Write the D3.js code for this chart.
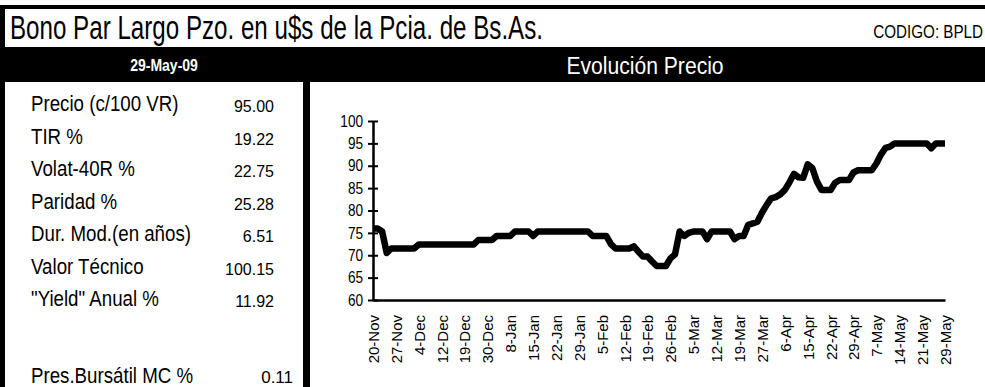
<!DOCTYPE html>
<html>
<head>
<meta charset="utf-8">
<script src="https://cdn.jsdelivr.net/npm/d3@7"></script>
<style>
  html, body { margin: 0; padding: 0; background: #fff; }
  svg { display: block; }
  text { font-family: "Liberation Sans", Arial, sans-serif; }
</style>
</head>
<body>
<svg id="chart" width="985" height="387"></svg>
<script>
// Bond summary: header texts, indicator table and daily closing prices
const titleText = "Bono Par Largo Pzo. en u$s de la Pcia. de Bs.As.";
const codeText = "CODIGO: BPLD";
const dateText = "29-May-09";
const chartTitle = "Evolución Precio";

const indicatorNames = ["Precio (c/100 VR)", "TIR %", "Volat-40R %", "Paridad %",
  "Dur. Mod.(en años)", "Valor Técnico", "\"Yield\" Anual %"];
const indicatorValues = ["95.00", "19.22", "22.75", "25.28", "6.51", "100.15", "11.92"];
const feeName = "Pres.Bursátil MC %";
const feeValue = "0.11";

// one label every fifth trading day
const dateLabels = ["20-Nov", "27-Nov", "4-Dec", "12-Dec", "19-Dec", "30-Dec", "8-Jan",
  "15-Jan", "22-Jan", "29-Jan", "5-Feb", "12-Feb", "19-Feb", "26-Feb", "5-Mar", "12-Mar",
  "19-Mar", "27-Mar", "6-Apr", "15-Apr", "22-Apr", "29-Apr", "7-May", "14-May", "21-May", "29-May"];
const labelStep = 5;

const prices = [
  76.0, 76.0, 75.3, 70.5, 71.5, 71.5, 71.5, 71.5, 71.5, 71.5,
  72.4, 72.4, 72.4, 72.4, 72.4, 72.4, 72.4, 72.4, 72.4, 72.4,
  72.4, 72.4, 72.4, 73.4, 73.4, 73.4, 73.4, 74.3, 74.3, 74.3,
  74.3, 75.3, 75.3, 75.3, 75.3, 74.3, 75.3, 75.3, 75.3, 75.3,
  75.3, 75.3, 75.3, 75.3, 75.3, 75.3, 75.3, 75.3, 74.3, 74.3,
  74.3, 74.3, 72.5, 71.5, 71.5, 71.5, 71.5, 72.0, 70.8, 69.7,
  69.7, 68.6, 67.6, 67.6, 67.6, 69.3, 70.2, 75.3, 74.3, 75.0,
  75.3, 75.3, 75.3, 73.6, 75.3, 75.3, 75.3, 75.3, 75.3, 73.6,
  74.3, 74.3, 76.8, 77.1, 77.5, 79.5, 81.2, 82.7, 83.0, 83.6,
  84.6, 86.3, 88.2, 87.4, 87.3, 90.3, 89.5, 86.5, 84.6, 84.6,
  84.6, 86.2, 86.8, 86.8, 86.8, 88.5, 89.0, 89.0, 89.0, 89.0,
  90.5, 92.5, 94.0, 94.3, 95.0, 95.0, 95.0, 95.0, 95.0, 95.0,
  95.0, 95.0, 93.9, 95.0, 95.0, 95.0
];
const yTicks = [60, 65, 70, 75, 80, 85, 90, 95, 100];

const svg = d3.select("#chart");
const W = 985, H = 387;

// condensed text: the regular face squeezed horizontally
function narrowText(parent, x, y, str, size, opts = {}) {
  const t = parent.append("text")
    .attr("transform", `translate(${x},${y}) scale(${opts.squeeze || 0.84},1)`)
    .attr("font-size", size)
    .attr("text-anchor", opts.anchor || "start")
    .attr("fill", opts.fill || "#000")
    .text(str);
  if (opts.bold) t.attr("font-weight", "bold");
  return t;
}

// frame, header band and panel separator
svg.append("rect").attr("x", 0).attr("y", 0).attr("width", W).attr("height", H).attr("fill", "#fff");
svg.append("rect").attr("x", 0).attr("y", 5).attr("width", W).attr("height", 4).attr("fill", "#000");
svg.append("rect").attr("x", 0).attr("y", 5).attr("width", 5).attr("height", H - 5).attr("fill", "#000");
svg.append("rect").attr("x", 0).attr("y", 47).attr("width", W).attr("height", 35).attr("fill", "#000");
svg.append("rect").attr("x", 303).attr("y", 82).attr("width", 7).attr("height", H - 82).attr("fill", "#000");

svg.append("text")
  .attr("x", 10).attr("y", 39)
  .attr("font-size", 33)
  .attr("textLength", 533).attr("lengthAdjust", "spacingAndGlyphs")
  .text(titleText);

narrowText(svg, 983, 38, codeText, 19, { anchor: "end", squeeze: 0.8 });
narrowText(svg, 164, 71, dateText, 16.5, { anchor: "middle", bold: true, fill: "#fff", squeeze: 0.85 });
narrowText(svg, 645, 74, chartTitle, 24, { anchor: "middle", fill: "#fff", squeeze: 0.88 });

// indicator table
const rowY = d3.scaleLinear().domain([0, 1]).range([111, 143.5]);
const rows = svg.append("g");
indicatorNames.forEach((name, i) => {
  narrowText(rows, 31, rowY(i), name, 22, { squeeze: 0.85 });
  rows.append("text")
    .attr("x", 274).attr("y", rowY(i) + 1)
    .attr("text-anchor", "end")
    .attr("font-size", 16)
    .text(indicatorValues[i]);
});
narrowText(rows, 31, 383, feeName, 22, { squeeze: 0.85 });
rows.append("text")
  .attr("x", 293).attr("y", 383)
  .attr("text-anchor", "end")
  .attr("font-size", 17)
  .text(feeValue);

// price chart
const x = d3.scalePoint().domain(d3.range(prices.length)).range([373, 945]);
const y = d3.scaleLinear().domain([60, 100]).range([300, 121]);

const xAxis = d3.axisBottom(x)
  .tickValues(d3.range(0, prices.length, labelStep))
  .tickFormat(i => dateLabels[i / labelStep])
  .tickSize(0).tickSizeOuter(0);

const gx = svg.append("g").attr("transform", "translate(0,300)").call(xAxis);
gx.select(".domain").attr("stroke", "#000").attr("stroke-width", 2.5);
gx.selectAll(".tick text")
  .attr("font-family", "\"Liberation Sans\", Arial, sans-serif")
  .attr("font-size", 15)
  .attr("fill", "#000")
  .attr("text-anchor", "end")
  .attr("transform", "rotate(-90)")
  .attr("x", -15).attr("y", 0).attr("dy", "0.36em");

const yAxis = d3.axisLeft(y).tickValues(yTicks).tickSize(5).tickSizeOuter(0);
const gy = svg.append("g").attr("transform", "translate(373,0)").call(yAxis);
gy.select(".domain").attr("stroke", "#000").attr("stroke-width", 2.5);
gy.selectAll(".tick line").attr("x1", 5).attr("x2", -5).attr("stroke", "#000").attr("stroke-width", 2);
gy.selectAll(".tick text")
  .attr("font-family", "\"Liberation Sans\", Arial, sans-serif")
  .attr("font-size", 16)
  .attr("fill", "#000")
  .attr("x", 0)
  .attr("transform", "translate(-10,0) scale(0.85,1)");

const line = d3.line().x((d, i) => x(i)).y(d => y(d));
svg.append("path")
  .datum(prices)
  .attr("d", line)
  .attr("fill", "none")
  .attr("stroke", "#000")
  .attr("stroke-width", 6.5)
  .attr("stroke-linejoin", "round")
  .attr("stroke-linecap", "butt");
</script>
</body>
</html>
